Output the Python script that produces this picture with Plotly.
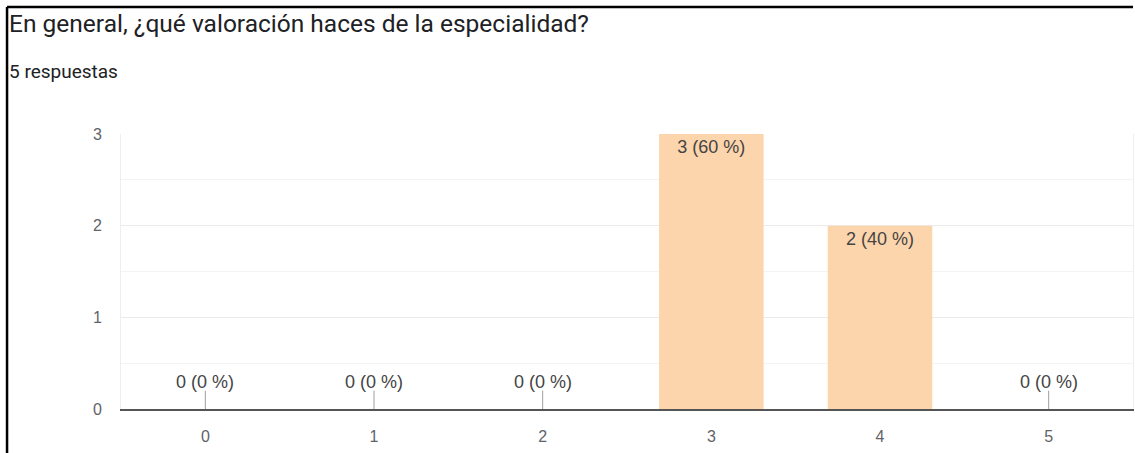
import plotly.graph_objects as go

categories = ["0", "1", "2", "3", "4", "5"]
counts = [0, 0, 0, 3, 2, 0]
y_ticks = [0, 1, 2, 3]
title_text = "En general, ¿qué valoración haces de la especialidad?"
subtitle_text = "5 respuestas"

total = sum(counts)
labels = [f"{c} ({round(100 * c / total)} %)" for c in counts]

BAR = "#fdd5ac"
TXT = "#444444"
AX = "#5f6368"
LBL_FONT = "Arial, Liberation Sans, sans-serif"

fig = go.Figure()
fig.add_trace(go.Bar(
    x=categories,
    y=counts,
    marker=dict(color=BAR, line=dict(width=0)),
    text=[l if c > 0 else "" for l, c in zip(labels, counts)],
    textposition="inside",
    insidetextanchor="end",
    textangle=0,
    textfont=dict(family=LBL_FONT, size=18, color=TXT),
    error_y=dict(
        type="data", symmetric=False,
        array=[0.2 if c == 0 else 0 for c in counts],
        arrayminus=[0] * len(counts),
        color="#9e9e9e", thickness=1, width=0,
    ),
    hoverinfo="skip",
))

for cat, c, l in zip(categories, counts, labels):
    if c == 0:
        fig.add_annotation(x=cat, y=0, yshift=27, text=l, showarrow=False,
                           font=dict(family=LBL_FONT, size=18, color=TXT))

fig.add_annotation(xref="paper", yref="paper", x=-0.1126, y=1.4036, xanchor="left", yanchor="middle",
                   text=title_text, showarrow=False,
                   font=dict(family="Roboto, Arial, sans-serif", size=24.5, color="#202124"))
fig.add_annotation(xref="paper", yref="paper", x=-0.1126, y=1.2255, xanchor="left", yanchor="middle",
                   text=subtitle_text, showarrow=False,
                   font=dict(family="Roboto, Arial, sans-serif", size=19, color="#202124"))

# frame lines (left and top)
fig.add_shape(type="line", xref="paper", yref="paper", x0=-0.1126, x1=1.0, y0=1.462, y1=1.462,
              line=dict(color="#000000", width=2.5))
fig.add_shape(type="line", xref="paper", yref="paper", x0=-0.1126, x1=-0.1126, y0=-0.2, y1=1.462,
              line=dict(color="#000000", width=2.5))

fig.update_layout(
    width=1135, height=453,
    margin=dict(l=121, r=2, t=134, b=44),
    paper_bgcolor="white", plot_bgcolor="white",
    bargap=0.38,
    showlegend=False,
    font=dict(family="Roboto, Arial, sans-serif"),
    uniformtext=dict(minsize=18, mode="show"),
)
fig.update_xaxes(
    type="category",
    showline=True, linecolor="#555555", linewidth=2,
    showgrid=False, ticks="", ticklabelstandoff=12,
    tickfont=dict(family=LBL_FONT, size=16, color=AX),
)
fig.update_yaxes(
    range=[0, 3], tickvals=y_ticks, ticktext=[str(v) for v in y_ticks],
    showgrid=True, gridcolor="#ebebeb", gridwidth=1,
    minor=dict(dtick=0.5, showgrid=True, gridcolor="#f4f4f4", gridwidth=1),
    showline=True, linecolor="#eeeeee", mirror=True,
    zeroline=False, ticks="", ticklabelstandoff=15,
    tickfont=dict(family=LBL_FONT, size=16, color=AX),
)

fig.write_html("out.html", config={"displayModeBar": False},
               post_script="document.body.style.margin='0';")
